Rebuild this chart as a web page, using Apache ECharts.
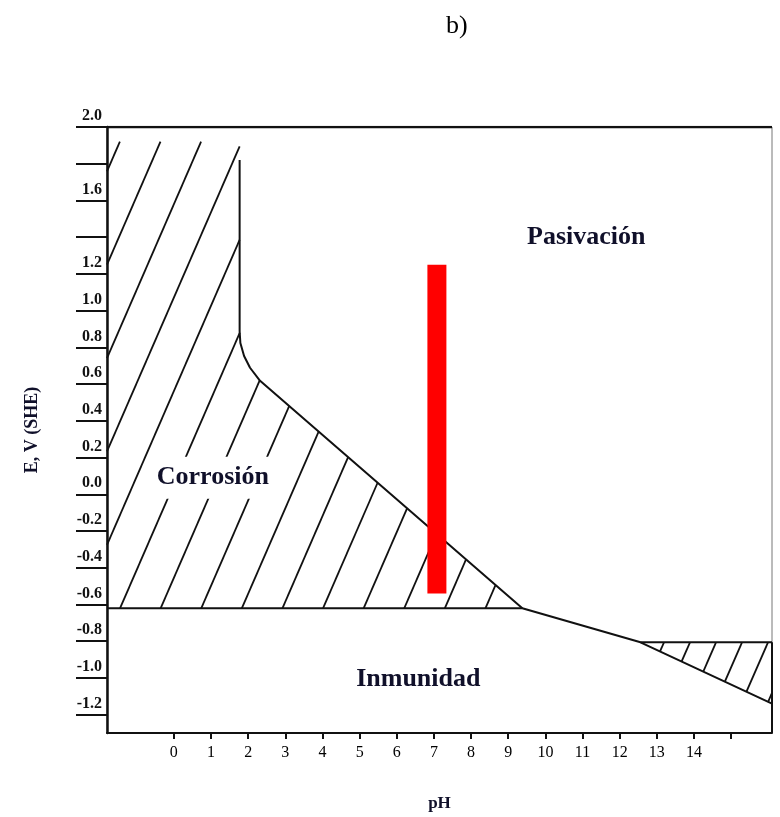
<!DOCTYPE html>
<html>
<head>
<meta charset="utf-8">
<script src="https://cdn.jsdelivr.net/npm/echarts@6/dist/echarts.min.js"></script>
<style>
  html, body { margin: 0; padding: 0; background: #fff; }
  #chart { width: 780px; height: 817px; }
</style>
</head>
<body>
<div id="chart"></div>
<script>
const INK = '#111'
const TEXT = '#10102a'
const FONT = 'Liberation Serif'

// axis extents (pH, E vs SHE)
const phRange = [-1.8, 16.1]
const eRange = [-1.3, 2.0]

// tick marks and labels
const phTicks = [0, 1, 2, 3, 4, 5, 6, 7, 8, 9, 10, 11, 12, 13, 14, 15]
const phLabels = [0, 1, 2, 3, 4, 5, 6, 7, 8, 9, 10, 11, 12, 13, 14]
const eTicks = [-1.2, -1.0, -0.8, -0.6, -0.4, -0.2, 0.0, 0.2, 0.4, 0.6, 0.8, 1.0, 1.2, 1.4, 1.6, 1.8, 2.0]
const eLabels = [-1.2, -1.0, -0.8, -0.6, -0.4, -0.2, 0.0, 0.2, 0.4, 0.6, 0.8, 1.0, 1.2, 1.6, 2.0]

// corrosion / passivation boundary
const passiveLine = [[1.77, 1.82], [1.77, 0.888], [1.79, 0.824], [1.89, 0.753], [2.05, 0.689], [2.32, 0.618], [9.38, -0.621]]
// immunity boundary
const immuneLine = [[-1.8, -0.621], [9.38, -0.621], [12.56, -0.806], [16.1, -1.14]]
// top of the small right-hand corrosion zone
const rightCap = [[12.56, -0.806], [16.1, -0.806]]
const rightEdge = [[16.1, -0.806], [16.1, -1.3]]
const topEdge = [[-1.8, 2.0], [16.1, 2.0]]
const hatchTop = 1.92

// red measuring bar at pH 7
const barPh = [7.08]
const barTop = [1.25]
const barBottom = [-0.54]

// region names
const regionNames = ['Pasivación', 'Corrosión', 'Inmunidad']
const regionPos = [[11.1, 1.40], [1.05, 0.09], [6.58, -1.006]]

const leftZone = [[phRange[0], hatchTop], [1.77, hatchTop]].concat(passiveLine, [[phRange[0], -0.621]])
const rightZone = [[12.56, -0.806], [16.1, -0.806], [16.1, -1.14]]
const hatchZones = [
  { poly: leftZone, step: 40.6, anchor: leftZone.length - 1, offset: 13 },
  { poly: rightZone, step: 26, anchor: 1, offset: -4 },
]

const SLOPE = 2.3

function hatchItem(params, api) {
  const zone = hatchZones[params.dataIndex]
  const pts = zone.poly.map(p => api.coord(p))
  const ks = pts.map(p => SLOPE * p[0] + p[1])
  const kMin = Math.min(...ks)
  const kMax = Math.max(...ks)
  const dk = SLOPE * zone.step
  const k0 = ks[zone.anchor] + SLOPE * zone.offset
  const n = Math.ceil((kMin - k0) / dk)
  const children = []
  for (let k = k0 + n * dk; k < kMax; k += dk) {
    const hits = []
    for (let i = 0; i < pts.length; i++) {
      const a = pts[i]
      const b = pts[(i + 1) % pts.length]
      const fa = SLOPE * a[0] + a[1] - k
      const fb = SLOPE * b[0] + b[1] - k
      if ((fa < 0 && fb >= 0) || (fa >= 0 && fb < 0)) {
        const t = fa / (fa - fb)
        hits.push([a[0] + (b[0] - a[0]) * t, a[1] + (b[1] - a[1]) * t])
      }
    }
    hits.sort((p, q) => p[0] - q[0])
    for (let j = 0; j + 1 < hits.length; j += 2) {
      children.push({
        type: 'line',
        shape: { x1: hits[j][0], y1: hits[j][1], x2: hits[j + 1][0], y2: hits[j + 1][1] },
        style: { stroke: INK, lineWidth: 1.8 },
      })
    }
  }
  return { type: 'group', children }
}

function barItem(params, api) {
  const top = api.coord([api.value(0), api.value(1)])
  const bottom = api.coord([api.value(0), api.value(2)])
  const w = 19
  return {
    type: 'rect',
    shape: { x: top[0] - w / 2, y: top[1], width: w, height: bottom[1] - top[1] },
    style: { fill: '#ff0000' },
  }
}

function lineSeries(data, width) {
  return {
    type: 'line',
    data,
    symbol: 'none',
    silent: true,
    lineStyle: { color: INK, width: width || 2 },
    z: 3,
  }
}

const option = {
  backgroundColor: '#fff',
  animation: false,
  title: {
    text: 'b)',
    left: 441,
    top: 8,
    textStyle: { fontFamily: FONT, fontSize: 26, fontWeight: 'normal', color: '#000' },
  },
  grid: {
    left: 107,
    right: 8,
    top: 127,
    bottom: 80,
    show: true,
    borderColor: '#777',
    borderWidth: 1,
  },
  xAxis: {
    type: 'value',
    min: phRange[0],
    max: phRange[1],
    name: 'pH',
    nameLocation: 'middle',
    nameGap: 62,
    nameTextStyle: { fontFamily: FONT, fontSize: 17, fontWeight: 'bold', color: TEXT },
    axisLine: { onZero: false, lineStyle: { color: INK, width: 2 } },
    axisTick: { customValues: phTicks, length: 6, lineStyle: { color: INK, width: 2 } },
    axisLabel: {
      customValues: phLabels,
      margin: 12,
      fontFamily: FONT,
      fontSize: 16,
      color: '#000',
    },
    splitLine: { show: false },
  },
  yAxis: {
    type: 'value',
    min: eRange[0],
    max: eRange[1],
    name: 'E, V (SHE)',
    nameLocation: 'middle',
    nameGap: 66,
    nameTextStyle: { fontFamily: FONT, fontSize: 18, fontWeight: 'bold', color: TEXT },
    axisLine: { onZero: false, lineStyle: { color: INK, width: 2.5 } },
    axisTick: { customValues: eTicks, length: 31, lineStyle: { color: INK, width: 2 } },
    axisLabel: {
      customValues: eLabels,
      formatter: v => v.toFixed(1),
      showMinLabel: true,
      showMaxLabel: true,
      verticalAlign: 'bottom',
      margin: 5,
      padding: [0, 0, 3, 0],
      fontFamily: FONT,
      fontSize: 16,
      fontWeight: 'bold',
      color: '#111',
    },
    splitLine: { show: false },
  },
  series: [
    {
      type: 'custom',
      renderItem: hatchItem,
      data: hatchZones.map((z, i) => i),
      silent: true,
      z: 2,
    },
    lineSeries(passiveLine),
    lineSeries(immuneLine),
    lineSeries(rightCap),
    lineSeries(rightEdge),
    lineSeries(topEdge, 2.5),
    {
      type: 'custom',
      renderItem: barItem,
      data: barPh.map((p, i) => [p, barTop[i], barBottom[i]]),
      silent: true,
      z: 5,
    },
    {
      type: 'scatter',
      symbolSize: 0,
      silent: true,
      z: 6,
      itemStyle: { opacity: 1 },
      data: regionNames.map((name, i) => ({ name, value: regionPos[i] })),
      label: {
        show: true,
        position: 'inside',
        formatter: p => p.name,
        fontFamily: FONT,
        fontSize: 26,
        fontWeight: 'bold',
        color: TEXT,
        opacity: 1,
        backgroundColor: '#fff',
        padding: [8, 2],
      },
    },
  ],
}

const chart = echarts.init(document.getElementById('chart'))
chart.setOption(option)
</script>
</body>
</html>
